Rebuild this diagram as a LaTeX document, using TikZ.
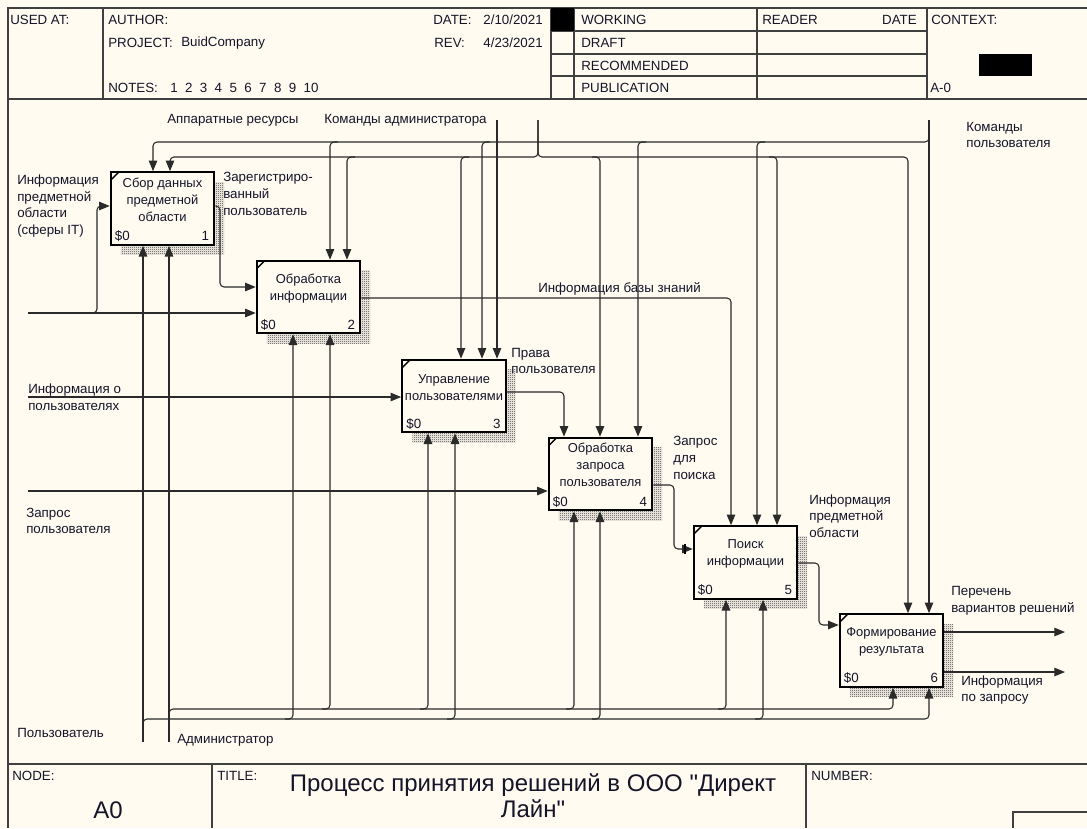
\documentclass[tikz,border=0pt]{standalone}
\usepackage{fontspec}
\setmainfont{Liberation Sans}
\newfontfamily\qfont{Liberation Sans}
\usetikzlibrary{arrows.meta,calc,patterns,shadows}
\pgfdeclarepatternformonly{chk}{\pgfpointorigin}{\pgfpoint{1.5pt}{1.5pt}}{\pgfpoint{1.5pt}{1.5pt}}{%
 \pgfpathrectangle{\pgfpointorigin}{\pgfpoint{0.75pt}{0.75pt}}%
 \pgfpathrectangle{\pgfpoint{0.75pt}{0.75pt}}{\pgfpoint{0.75pt}{0.75pt}}%
 \pgfusepath{fill}}
\definecolor{bg}{HTML}{FFFBF0}
\definecolor{frm}{HTML}{404040}
\definecolor{ln}{HTML}{2A2A2A}
\definecolor{txt}{HTML}{15152A}
\newcommand{\sq}{{\qfont"}}
\tikzset{
  conn/.style={draw=ln, line width=0.8pt, rounded corners=3pt},
  arr/.style={conn, -{Triangle[length=8pt,width=6.4pt]}},
  frame/.style={draw=frm, line width=0.8pt},
  procbox/.style={draw=black, line width=1.6pt, fill=bg, minimum width=77.6pt, minimum height=54.4pt, inner sep=0pt,
     general shadow={shadow xshift=7.5pt, shadow yshift=-7.5pt, pattern=chk, pattern color=black!80}},
  boxtxt/.style={font=\fontsize{9.7}{12.7}\selectfont, align=center, inner sep=0pt, text=txt},
  num/.style={font=\fontsize{10}{12}\selectfont, inner sep=0pt, text=txt},
  lab/.style={font=\fontsize{10}{12.5}\selectfont, align=left, anchor=west, inner sep=0pt, text=txt},
  hdr/.style={font=\fontsize{10}{12}\selectfont, anchor=west, inner sep=0pt, text=txt},
  tick/.style={draw=black, line width=1.1pt}
}
\begin{document}
\begin{tikzpicture}[x=0.75pt,y=-0.75pt]
\useasboundingbox (0,0) rectangle (1087,828);
\fill[bg] (0,0) rectangle (1087,828);

% ---------- frame ----------
\draw[frame] (8,828) -- (8,8) -- (1087,8);
\draw[frame] (8,99) -- (1087,99);
\draw[frame] (8,764) -- (1087,764);
\foreach \x in {103,551,574,757,927} \draw[frame] (\x,8) -- (\x,99);
\foreach \y in {31,54,76} \draw[frame] (551,\y) -- (927,\y);
\fill[black] (551,8) rectangle (574,31);
\fill[black] (979,54) rectangle (1032,76);
\draw[frame] (212,764) -- (212,828);
\draw[frame] (806,764) -- (806,828);
\draw[frame] (1013,828) -- (1013,812) -- (1087,812);

% header texts
\node[hdr] (hUsed) at (10,20) {USED AT:};
\node[hdr] (hAuth) at (108,20) {AUTHOR:};
\node[hdr] (hProj) at (108,43) {PROJECT:};
\node[hdr] (hProjV) at (181,43) {BuidCompany};
\node[hdr] (hNotes) at (108,88) {NOTES:};
\node[hdr] (hNotesV) at (170,88) {1\ \ 2\ \ 3\ \ 4\ \ 5\ \ 6\ \ 7\ \ 8\ \ 9\ \ 10};
\node[hdr] (hDate) at (433,20) {DATE:};
\node[hdr,anchor=east] (hDateV) at (543,20) {2/10/2021};
\node[hdr] (hRev) at (434,43) {REV:};
\node[hdr,anchor=east] (hRevV) at (543,43) {4/23/2021};
\node[hdr] (hW) at (581,20) {WORKING};
\node[hdr] (hD) at (581,43) {DRAFT};
\node[hdr] (hR) at (581,66) {RECOMMENDED};
\node[hdr] (hP) at (581,88) {PUBLICATION};
\node[hdr] (hRd) at (762,20) {READER};
\node[hdr,anchor=east] (hRdD) at (917,20) {DATE};
\node[hdr] (hCtx) at (931,20) {CONTEXT:};
\node[hdr] (hA0) at (930,88) {A-0};

% footer texts
\node[hdr] (fNode) at (12,776) {NODE:};
\node[font=\fontsize{18}{20}\selectfont, inner sep=0pt, text=txt] (fA0) at (108,810) {A0};
\node[hdr] (fTitle) at (217,776) {TITLE:};
\node[font=\fontsize{18}{19.5}\selectfont, align=center, inner sep=0pt, text=txt] (fTitleV) at (533,796) {Процесс принятия решений в ООО \sq Директ\\Лайн\sq};
\node[hdr] (fNum) at (811,776) {NUMBER:};

% ---------- boxes ----------
\node[procbox] (b1) at (162.5,208.5) {};
\node[procbox] (b2) at (308.5,297) {};
\node[procbox] (b3) at (454,396) {};
\node[procbox] (b4) at (600.5,474) {};
\node[procbox] (b5) at (745.5,562.5) {};
\node[procbox] (b6) at (891.5,650.5) {};

\foreach \b/\n in {b1/1,b2/2,b3/3,b4/4,b5/5,b6/6}{
  \draw[tick] ($(\b.north west)+(1,9)$) -- ($(\b.north west)+(9,1)$);
  \node[num,anchor=base west] at ($(\b.south west)+(5,-5)$) {\$0};
  \node[num,anchor=base east] at ($(\b.south east)+(-6,-5)$) {\n};
}
\node[boxtxt] (t1) at ($(b1.center)+(0,-9)$) {Сбор данных\\предметной\\области};
\node[boxtxt] (t2) at ($(b2.center)+(0,-8.5)$) {Обработка\\информации};
\node[boxtxt] (t3) at ($(b3.center)+(0,-8)$) {Управление\\пользователями};
\node[boxtxt] (t4) at ($(b4.center)+(0,-9)$) {Обработка\\запроса\\пользователя};
\node[boxtxt] (t5) at ($(b5.center)+(0,-9)$) {Поиск\\информации};
\node[boxtxt] (t6) at ($(b6.center)+(0,-8.5)$) {Формирование\\результата};

% ---------- control buses ----------
\coordinate (cuSrc) at (929,120);
\draw[arr] (cuSrc) -- (929,0 |- b6.north);
\draw[arr] (929,134) |- (153,142) -- (153,0 |- b1.north);
\draw[arr] (338,142) -| (330,0 |- b2.north);
\draw[arr] (490,142) -| (482,0 |- b3.north);
\draw[arr] (646,142) -| (638,0 |- b4.north);
\draw[arr] (765,142) -| (757,0 |- b5.north);

\coordinate (caSrc) at (538,120);
\draw[arr] (caSrc) |- (170,157) -- (170,0 |- b1.north);
\draw[arr] (caSrc) |- (908,157) -- (908,0 |- b6.north);
\draw[arr] (355,157) -| (347,0 |- b2.north);
\draw[arr] (469,157) -| (461,0 |- b3.north);
\draw[arr] (592,157) -| (600,0 |- b4.north);
\draw[arr] (769,157) -| (777,0 |- b5.north);

\coordinate (cbSrc) at (497,120);
\draw[arr] (cbSrc) -- (497,0 |- b3.north);

% ---------- mechanism buses ----------
\coordinate (uSrc) at (143,742);
\coordinate (aSrc) at (169,742);
\draw[arr] (uSrc) -- (143,0 |- b1.south);
\draw[arr] (aSrc) -- (169,0 |- b1.south);
\draw[arr] (143,727) |- (929,719) -- (929,0 |- b6.south);
\draw[arr] (169,717) |- (893,709) -- (893,0 |- b6.south);
\draw[arr] (285,719) -| (293,0 |- b2.south);
\draw[arr] (447,719) -| (455,0 |- b3.south);
\draw[arr] (592,719) -| (600,0 |- b4.south);
\draw[arr] (755,719) -| (763,0 |- b5.south);
\draw[arr] (322,709) -| (330,0 |- b2.south);
\draw[arr] (420,709) -| (428,0 |- b3.south);
\draw[arr] (566,709) -| (574,0 |- b4.south);
\draw[arr] (718,709) -| (726,0 |- b5.south);

% ---------- inputs ----------
\coordinate (in1) at (28,313);
\coordinate (in2) at (28,397);
\coordinate (in3) at (28,491);
\draw[arr] (in1) -- (b2.west |- 0,313);
\draw[arr] (89,313) -| (97,206) -- (b1.west |- 0,206);
\draw[arr] (in2) -- (b3.west |- 0,397);
\draw[arr] (in3) -- (b4.west |- 0,491);

% ---------- internal flows ----------
\draw[arr] (b1.east |- 0,206) -| (220,287) -- (b2.west |- 0,287);
\draw[arr] (b2.east |- 0,298) -| (731,0 |- b5.north);
\draw[arr] (b3.east |- 0,392) -| (564,0 |- b4.north);
\draw[arr] (b4.east |- 0,485) -| (674,549) -- (b5.west |- 0,549);
\draw[line width=1.3pt] (685,544) -- (685,554);
\draw[arr] (b5.east |- 0,563) -| (819,625) -- (b6.west |- 0,625);
\coordinate (o1) at (1065,632);
\coordinate (o2) at (1065,672);
\draw[arr] (b6.east |- 0,632) -- (o1);
\draw[arr] (b6.east |- 0,672) -- (o2);

% ---------- labels ----------
\node[lab] (lHw) at (167,120) {Аппаратные ресурсы};
\node[lab] (lCa) at (324,120) {Команды администратора};
\node[lab] (lCu) at (966,135) {Команды\\пользователя};
\node[lab] (lIn1) at (17,206) {Информация\\предметной\\области\\(сферы IT)};
\node[lab] (lReg) at (223,194) {Зарегистриро-\\ванный\\пользователь};
\node[lab] (lKb) at (538,289) {Информация базы знаний};
\node[lab] (lRights) at (511,361) {Права\\пользователя};
\node[lab] (lIn2) at (28,397) {Информация о\\пользователях};
\node[lab] (lIn3) at (26,521) {Запрос\\пользователя};
\node[lab] (lSearch) at (673,458) {Запрос\\для\\поиска};
\node[lab] (lDom) at (809,516) {Информация\\предметной\\области};
\node[lab] (lList) at (951,601) {Перечень\\вариантов решений};
\node[lab] (lAns) at (961,690) {Информация\\по запросу};
\node[lab] (lUser) at (17,733) {Пользователь};
\node[lab] (lAdm) at (177,740) {Администратор};
\end{tikzpicture}
\end{document}
